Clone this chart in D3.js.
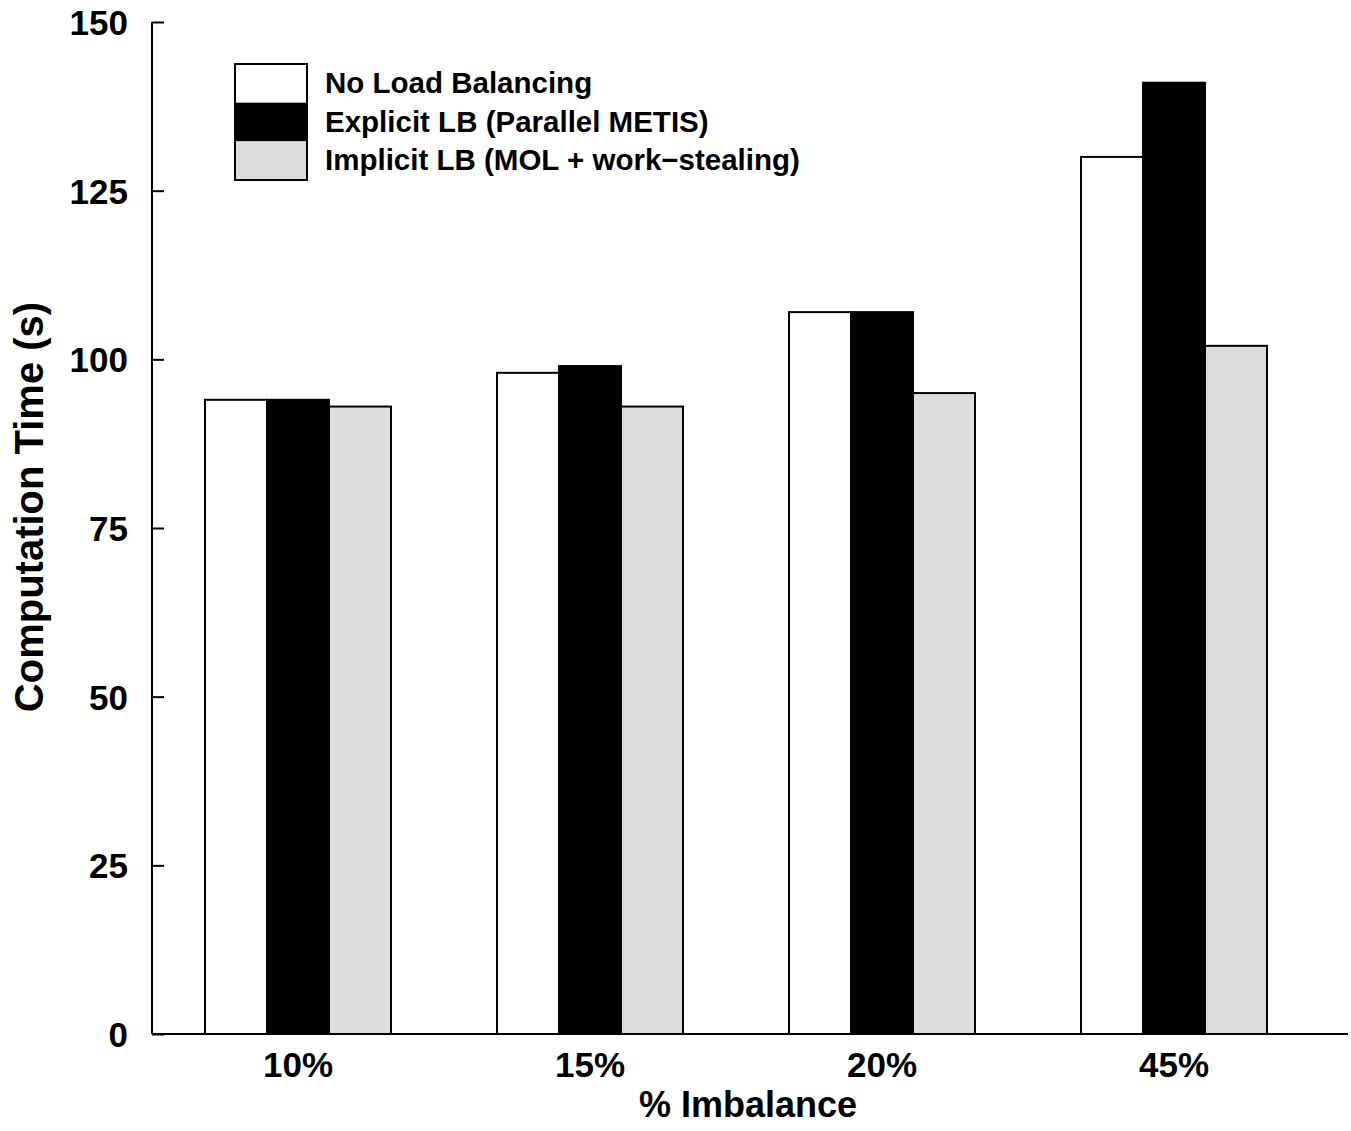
<!DOCTYPE html>
<html><head><meta charset="utf-8">
<script src="https://cdn.jsdelivr.net/npm/d3@7"></script>
<style>body{margin:0;background:#fff}svg{display:block}text{font-family:"Liberation Sans",Arial,sans-serif;font-weight:bold;fill:#000}</style>
</head><body>
<svg id="c" width="1351" height="1131"></svg>
<script>
const categories = ["10%", "15%", "20%", "45%"];
const seriesNames = ["No Load Balancing", "Explicit LB (Parallel METIS)", "Implicit LB (MOL + work\u2212stealing)"];
const noLB = [94, 98, 107, 130];
const explicitLB = [94, 99, 107, 141];
const implicitLB = [93, 93, 95, 102];
const yTicks = [0, 25, 50, 75, 100, 125, 150];
const colors = ["#ffffff", "#000000", "#dcdcdc"];
const series = [noLB, explicitLB, implicitLB];

(function () {
const svg = d3.select("#c");
const mLeft = 152, mRight = 1320, mTop = 22, mBottom = 1034;
const x0 = d3.scaleBand().domain(categories).range([mLeft, mRight]).padding(0);
const x1 = d3.scaleBand().domain(d3.range(series.length)).range([53, 239]).padding(0);
const y = d3.scaleLinear().domain([0, 150]).range([mBottom, mTop]);

// bars
categories.forEach((c, i) => {
  series.forEach((s, j) => {
    svg.append("rect")
      .attr("x", x0(c) + x1(j))
      .attr("y", y(s[i]))
      .attr("width", x1.bandwidth())
      .attr("height", y(0) - y(s[i]))
      .attr("fill", colors[j])
      .attr("stroke", "#000")
      .attr("stroke-width", 2);
  });
});

// y axis
const yAxis = d3.axisRight(y).tickValues(yTicks).tickSize(12).tickFormat(d3.format("d"));
const ga = svg.append("g").attr("transform", `translate(${mLeft},0)`).call(yAxis);
ga.select(".domain").attr("d", `M0,${mTop}V${mBottom}`).attr("stroke-width", 2);
ga.selectAll(".tick line").attr("stroke-width", 2);
ga.selectAll(".tick text").attr("x", -24).attr("text-anchor", "end").attr("dy", "0.36em")
  .style("font-size", "35px").style("font-family", "Liberation Sans, Arial, sans-serif").style("font-weight", "bold");

// x axis
svg.append("line").attr("x1", mLeft).attr("x2", 1348).attr("y1", mBottom).attr("y2", mBottom)
  .attr("stroke", "#000").attr("stroke-width", 2);
svg.selectAll(".xl").data(categories).enter().append("text")
  .attr("x", d => x0(d) + x0.bandwidth() / 2).attr("y", 1077)
  .attr("text-anchor", "middle").style("font-size", "35px").text(d => d);

svg.append("text").attr("x", 748).attr("y", 1117).attr("text-anchor", "middle")
  .style("font-size", "36px").text("% Imbalance");
svg.append("text").attr("transform", "translate(43,507) rotate(-90)").attr("text-anchor", "middle")
  .style("font-size", "40px").text("Computation Time (s)");

// legend
const lg = svg.append("g");
seriesNames.forEach((n, j) => {
  lg.append("rect").attr("x", 235).attr("y", 64 + j * 38.7).attr("width", 72).attr("height", 38.7)
    .attr("fill", colors[j]).attr("stroke", "none");
  lg.append("text").attr("x", 325).attr("y", 64 + j * 38.7 + 29).style("font-size", "29.5px").text(n);
});
lg.append("rect").attr("x", 235).attr("y", 64).attr("width", 72).attr("height", 116)
  .attr("fill", "none").attr("stroke", "#000").attr("stroke-width", 2);
})();
</script>
</body></html>
